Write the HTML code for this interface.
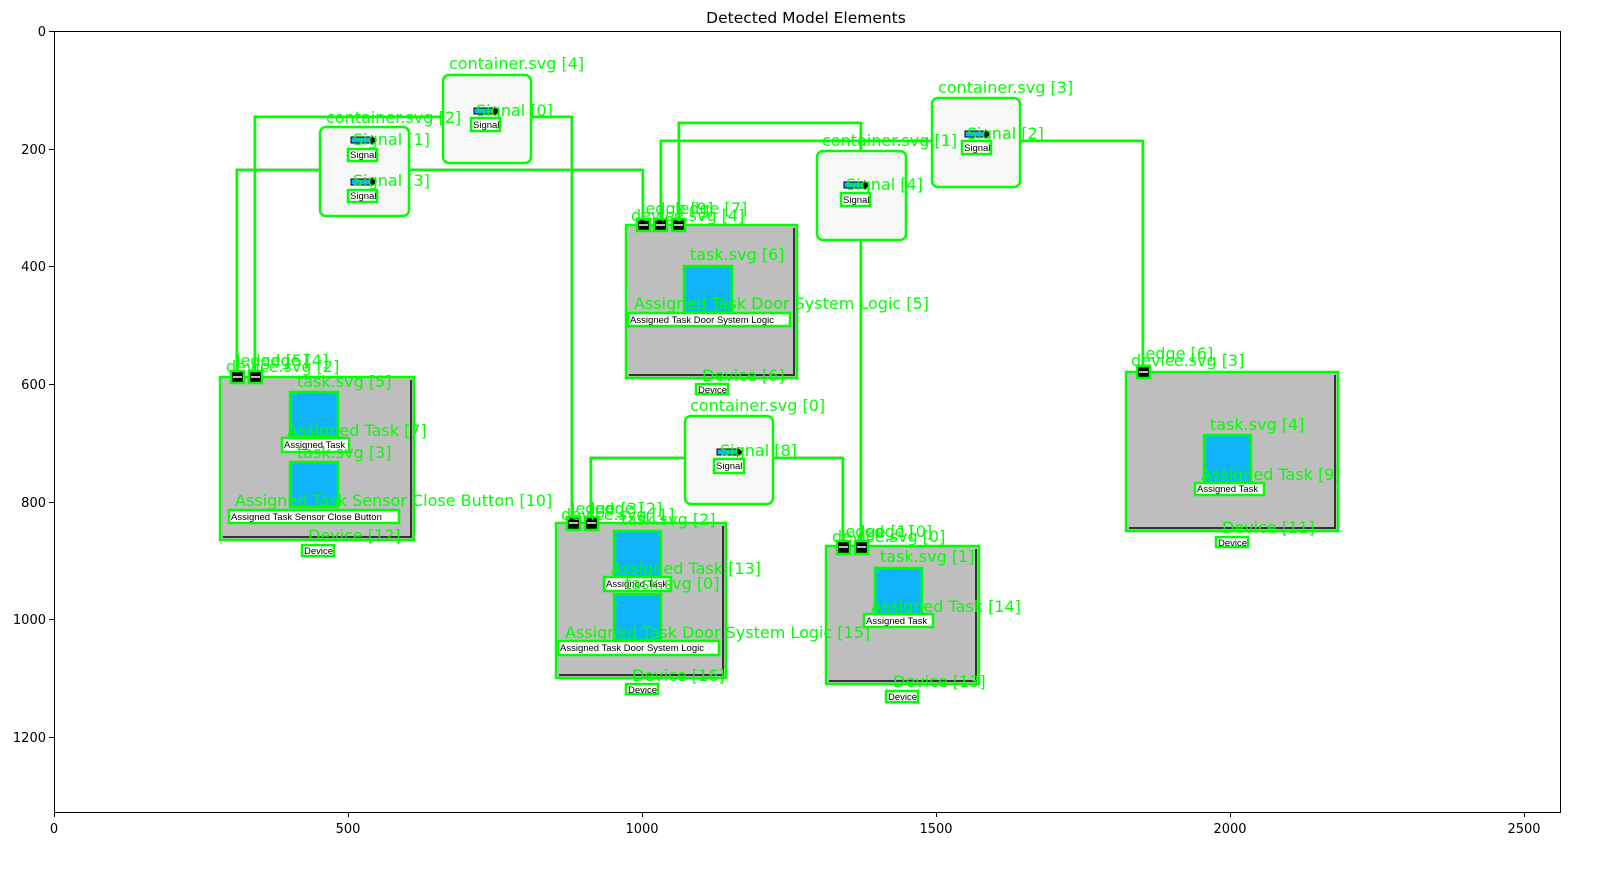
<!DOCTYPE html>
<html><head><meta charset="utf-8"><style>
html,body{margin:0;padding:0;background:#fff;width:1614px;height:871px;overflow:hidden}
svg{display:block}
.g{fill:#00ff00;font-family:"DejaVu Sans",sans-serif;font-size:16px}
.t{font-family:"DejaVu Sans",sans-serif;font-size:13px;fill:#000}
.s{font-family:"Liberation Sans",sans-serif;font-size:9.5px;fill:#000}
.dev{fill:#bebebe;stroke:#00ff00;stroke-width:2.5}
.tb{fill:#10b4f8;stroke:#00ff00;stroke-width:2.5}
.lb{fill:#fff;stroke:#00ff00;stroke-width:2.5}
.cn{fill:#f8f8f8;stroke:#00ff00;stroke-width:2.5}
.pt{fill:#000;stroke:#00ff00;stroke-width:2.5}
.ln{fill:none;stroke:#00ff00;stroke-width:2.5}
.sh{fill:none;stroke:#333;stroke-width:2}
</style></head><body>
<svg width="1614" height="871" viewBox="0 0 1614 871">
<text x="806" y="23" text-anchor="middle" font-family="DejaVu Sans,sans-serif" font-size="15.5">Detected Model Elements</text>
<rect x="54.5" y="31.5" width="1506" height="781" fill="#fff" stroke="#000" stroke-width="1"/>
<g stroke="#000" stroke-width="1">
<line x1="54.5" y1="812" x2="54.5" y2="817"/><line x1="348.5" y1="812" x2="348.5" y2="817"/><line x1="642.5" y1="812" x2="642.5" y2="817"/><line x1="936.5" y1="812" x2="936.5" y2="817"/><line x1="1230.5" y1="812" x2="1230.5" y2="817"/><line x1="1524.5" y1="812" x2="1524.5" y2="817"/>
<line x1="49" y1="31.5" x2="54" y2="31.5"/><line x1="49" y1="149.5" x2="54" y2="149.5"/><line x1="49" y1="266.5" x2="54" y2="266.5"/><line x1="49" y1="384.5" x2="54" y2="384.5"/><line x1="49" y1="502.5" x2="54" y2="502.5"/><line x1="49" y1="619.5" x2="54" y2="619.5"/><line x1="49" y1="737.5" x2="54" y2="737.5"/>
</g>
<g class="t" text-anchor="middle">
<text x="54" y="833">0</text><text x="348" y="833">500</text><text x="642" y="833">1000</text><text x="936" y="833">1500</text><text x="1230" y="833">2000</text><text x="1524" y="833">2500</text>
</g>
<g class="t" text-anchor="end">
<text x="46" y="36">0</text><text x="46" y="154">200</text><text x="46" y="271">400</text><text x="46" y="389">600</text><text x="46" y="507">800</text><text x="46" y="624">1000</text><text x="46" y="742">1200</text>
</g>

<g stroke="#888" stroke-width="1" fill="none" transform="translate(-1,-1)">
<polyline points="237,371 237,170 643,170 643,219"/>
<polyline points="255,371 255,117 572,117 572,517"/>
<polyline points="661,219 661,141 1143,141 1143,366"/>
<polyline points="679,219 679,123 861,123 861,541"/>
<polyline points="591,517 591,458 843,458 843,541"/>
</g>
<g class="ln">
<polyline points="237,371 237,170 643,170 643,219"/>
<polyline points="255,371 255,117 572,117 572,517"/>
<polyline points="661,219 661,141 1143,141 1143,366"/>
<polyline points="679,219 679,123 861,123 861,541"/>
<polyline points="591,517 591,458 843,458 843,541"/>
</g>

<g>
<rect class="cn" x="443" y="75" width="88" height="88" rx="6"/>
<rect class="cn" x="320" y="127" width="89" height="89" rx="6"/>
<rect class="cn" x="932" y="98" width="88" height="89" rx="6"/>
<rect class="cn" x="817" y="151" width="89" height="89" rx="6"/>
<rect class="cn" x="685" y="416" width="88" height="88" rx="6"/>
</g>
<g>
<g transform="translate(474,108)"><rect x="0" y="0" width="20" height="6" fill="#10b4f8" stroke="#000"/><polygon points="20,-2 26,3 20,8" fill="#000"/></g>
<rect class="lb" x="471" y="118" width="29" height="13"/><text class="s" x="473" y="128">Signal</text>
<g transform="translate(351,137)"><rect x="0" y="0" width="20" height="6" fill="#10b4f8" stroke="#000"/><polygon points="20,-2 26,3 20,8" fill="#000"/></g>
<rect class="lb" x="348" y="149" width="29" height="12"/><text class="s" x="350" y="158">Signal</text>
<g transform="translate(351,179)"><rect x="0" y="0" width="20" height="6" fill="#10b4f8" stroke="#000"/><polygon points="20,-2 26,3 20,8" fill="#000"/></g>
<rect class="lb" x="348" y="190" width="29" height="12"/><text class="s" x="350" y="199">Signal</text>
<g transform="translate(965,131)"><rect x="0" y="0" width="20" height="6" fill="#10b4f8" stroke="#000"/><polygon points="20,-2 26,3 20,8" fill="#000"/></g>
<rect class="lb" x="962" y="141" width="29" height="13"/><text class="s" x="964" y="151">Signal</text>
<g transform="translate(844,182)"><rect x="0" y="0" width="20" height="6" fill="#10b4f8" stroke="#000"/><polygon points="20,-2 26,3 20,8" fill="#000"/></g>
<rect class="lb" x="841" y="193" width="29" height="13"/><text class="s" x="843" y="203">Signal</text>
<g transform="translate(717,449)"><rect x="0" y="0" width="20" height="6" fill="#10b4f8" stroke="#000"/><polygon points="20,-2 26,3 20,8" fill="#000"/></g>
<rect class="lb" x="714" y="459" width="30" height="14"/><text class="s" x="716" y="469">Signal</text>
</g>

<g>
<rect class="dev" x="220" y="377" width="194" height="163"/>
<polyline class="sh" points="411,380 411,537 223,537"/>
<rect class="dev" x="626" y="225" width="171" height="153"/>
<polyline class="sh" points="794,228 794,375 629,375"/>
<rect class="dev" x="1126" y="372" width="212" height="159"/>
<polyline class="sh" points="1335,375 1335,528 1129,528"/>
<rect class="dev" x="556" y="523" width="170" height="155"/>
<polyline class="sh" points="723,526 723,675 559,675"/>
<rect class="dev" x="826" y="546" width="153" height="138"/>
<polyline class="sh" points="976,549 976,681 829,681"/>
</g>
<g>
<rect class="pt" x="231" y="371" width="13" height="12"/><rect class="pt" x="249" y="371" width="13" height="12"/>
<rect class="pt" x="637" y="219" width="13" height="12"/><rect class="pt" x="654" y="219" width="13" height="12"/><rect class="pt" x="672" y="219" width="13" height="12"/>
<rect class="pt" x="1137" y="366" width="13" height="12"/>
<rect class="pt" x="567" y="517" width="13" height="13"/><rect class="pt" x="585" y="517" width="13" height="13"/>
<rect class="pt" x="837" y="541" width="13" height="13"/><rect class="pt" x="855" y="541" width="13" height="13"/>
</g>
<g stroke="#fff" stroke-width="1.5">
<line x1="233" y1="377" x2="242" y2="377"/><line x1="251" y1="377" x2="260" y2="377"/>
<line x1="639" y1="225" x2="648" y2="225"/><line x1="656" y1="225" x2="665" y2="225"/><line x1="674" y1="225" x2="683" y2="225"/>
<line x1="1139" y1="372" x2="1148" y2="372"/>
<line x1="569" y1="523" x2="578" y2="523"/><line x1="587" y1="523" x2="596" y2="523"/>
<line x1="839" y1="547" x2="848" y2="547"/><line x1="857" y1="547" x2="866" y2="547"/>
</g>
<g>
<rect class="tb" x="290" y="392" width="48" height="45"/>
<rect class="lb" x="282" y="438" width="67" height="14"/><text class="s" x="284" y="448">Assigned Task</text>
<rect class="tb" x="290" y="462" width="48" height="45"/>
<rect class="lb" x="229" y="510" width="170" height="13"/><text class="s" x="231" y="520">Assigned Task Sensor Close Button</text>
<rect class="lb" x="302" y="545" width="32" height="11"/><text class="s" x="304" y="554">Device</text>

<rect class="tb" x="684" y="266" width="48" height="47"/>
<rect class="lb" x="628" y="313" width="162" height="13"/><text class="s" x="630" y="323">Assigned Task Door System Logic</text>
<rect class="lb" x="696" y="384" width="32" height="10"/><text class="s" x="698" y="393">Device</text>

<rect class="tb" x="1204" y="435" width="47" height="48"/>
<rect class="lb" x="1195" y="483" width="69" height="12"/><text class="s" x="1197" y="492">Assigned Task</text>
<rect class="lb" x="1216" y="537" width="32" height="10"/><text class="s" x="1218" y="546">Device</text>

<rect class="tb" x="614" y="531" width="47" height="46"/>
<rect class="lb" x="604" y="577" width="67" height="14"/><text class="s" x="606" y="587">Assigned Task</text>
<rect class="tb" x="614" y="594" width="47" height="46"/>
<rect class="lb" x="558" y="641" width="161" height="14"/><text class="s" x="560" y="651">Assigned Task Door System Logic</text>
<rect class="lb" x="626" y="684" width="32" height="10"/><text class="s" x="628" y="693">Device</text>

<rect class="tb" x="875" y="568" width="47" height="47"/>
<rect class="lb" x="864" y="614" width="69" height="13"/><text class="s" x="866" y="624">Assigned Task</text>
<rect class="lb" x="886" y="691" width="32" height="11"/><text class="s" x="888" y="700">Device</text>
</g>

<g class="g">
<text x="449" y="69">container.svg [4]</text>
<text x="476" y="116">Signal [0]</text>
<text x="326" y="123">container.svg [2]</text>
<text x="353" y="145">Signal [1]</text>
<text x="353" y="186">Signal [3]</text>
<text x="938" y="93">container.svg [3]</text>
<text x="967" y="139">Signal [2]</text>
<text x="822" y="146">container.svg [1]</text>
<text x="846" y="190">Signal [4]</text>
<text x="641" y="214">ledge [9]</text>
<text x="675" y="214">ledge [7]</text>
<text x="631" y="221">device.svg [4]</text>
<text x="690" y="260">task.svg [6]</text>
<text x="634" y="309">Assigned Task Door System Logic [5]</text>
<text x="702" y="381">Device [6]</text>
<text x="690" y="411">container.svg [0]</text>
<text x="720" y="456">Signal [8]</text>
<text x="1141" y="359">ledge [6]</text>
<text x="1131" y="366">device.svg [3]</text>
<text x="1210" y="430">task.svg [4]</text>
<text x="1201" y="480">Assigned Task [9]</text>
<text x="1222" y="533">Device [11]</text>
<text x="236" y="366">ledge [5]</text>
<text x="256" y="366">ledge [4]</text>
<text x="226" y="372">device.svg [2]</text>
<text x="297" y="387">task.svg [5]</text>
<text x="287" y="436">Assigned Task [7]</text>
<text x="297" y="458">task.svg [3]</text>
<text x="235" y="506">Assigned Task Sensor Close Button [10]</text>
<text x="308" y="541">Device [12]</text>
<text x="571" y="514">ledge [3]</text>
<text x="590" y="514">ledge [2]</text>
<text x="561" y="520">device.svg [1]</text>
<text x="621" y="525">task.svg [2]</text>
<text x="611" y="574">Assigned Task [13]</text>
<text x="625" y="589">task.svg [0]</text>
<text x="565" y="638">Assigned Task Door System Logic [15]</text>
<text x="632" y="681">Device [16]</text>
<text x="841" y="537">ledge [1]</text>
<text x="860" y="537">ledge [0]</text>
<text x="832" y="542">device.svg [0]</text>
<text x="880" y="562">task.svg [1]</text>
<text x="871" y="612">Assigned Task [14]</text>
<text x="893" y="687">Device [13]</text>
</g>
</svg>
</body></html>
